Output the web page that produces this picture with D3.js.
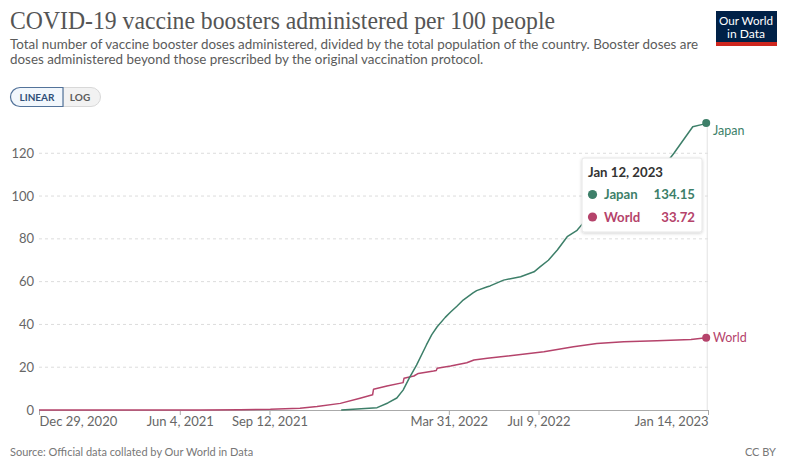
<!DOCTYPE html>
<html>
<head>
<meta charset="utf-8">
<script src="https://cdn.jsdelivr.net/npm/d3@7"></script>
<style>
  html, body { margin: 0; padding: 0; background: #fff; }
  svg { display: block; font-family: Lato, "Noto Sans", sans-serif; }
</style>
</head>
<body>
<svg width="785" height="461"></svg>
<script>
// values
const japanDates = ["2021-12-01", "2022-01-10", "2022-01-22", "2022-02-01", "2022-02-08", "2022-02-15",
  "2022-02-23", "2022-03-06", "2022-03-12", "2022-03-18", "2022-03-27", "2022-04-02", "2022-04-09",
  "2022-04-16", "2022-04-27", "2022-05-01", "2022-05-13", "2022-05-16", "2022-05-31", "2022-06-19",
  "2022-07-04", "2022-07-11", "2022-07-20", "2022-07-30", "2022-08-10", "2022-08-21", "2022-08-27",
  "2022-09-16", "2022-10-14", "2022-11-11", "2022-12-07", "2022-12-28", "2023-01-08", "2023-01-12"];
const japanValues = [0, 1.1, 3.3, 5.6, 9.3, 15, 21, 30.4, 35.2, 38.9, 43.3, 45.8, 48.5, 51.4, 54.7, 55.8,
  57.6, 58, 60.7, 62.3, 64.6, 67, 70, 74.8, 81, 84, 87, 92, 99, 106, 120, 132.4, 133.5, 134.15];

const worldDates = ["2020-12-29", "2021-06-27", "2021-08-10", "2021-09-13", "2021-10-16", "2021-11-04",
  "2021-11-30", "2021-12-22", "2022-01-05", "2022-01-06", "2022-01-21", "2022-02-08", "2022-02-09",
  "2022-02-20", "2022-02-25", "2022-03-14", "2022-03-17", "2022-03-18", "2022-04-02", "2022-04-20",
  "2022-04-28", "2022-05-13", "2022-05-28", "2022-07-15", "2022-08-17", "2022-09-12", "2022-10-12",
  "2022-11-18", "2022-12-26", "2023-01-12"];
const worldValues = [0, 0.05, 0.15, 0.3, 0.8, 1.6, 3.1, 5.5, 7.1, 9.7, 11.2, 12.8, 14.8, 15.9, 17.1,
  18.2, 18.5, 19.5, 20.6, 22.1, 23.4, 24.2, 24.9, 27.2, 29.6, 31.1, 31.9, 32.4, 33.0, 33.72];

const xTickDates = ["2020-12-29", "2021-06-04", "2021-09-12", "2022-03-31", "2022-07-09", "2023-01-14"];
const yTicks = [0, 20, 40, 60, 80, 100, 120];

const japanColor = "#3d7f69";
const worldColor = "#b5436b";

const svg = d3.select("svg");
const parse = d3.utcParse("%Y-%m-%d");
const fmtTick = d3.utcFormat("%b %-d, %Y");

const japan = japanDates.map((d, i) => ({ date: parse(d), value: japanValues[i] }));
const world = worldDates.map((d, i) => ({ date: parse(d), value: worldValues[i] }));

const plotLeft = 39, plotRight = 708, plotTop = 123, plotBottom = 410;

const xScale = d3.scaleUtc()
  .domain([parse(xTickDates[0]), parse(xTickDates[xTickDates.length - 1])])
  .range([plotLeft, plotRight]);

const yScale = d3.scaleLinear()
  .domain([0, 134.15])
  .range([plotBottom, plotTop]);

// header
svg.append("text")
  .attr("x", 10)
  .attr("y", 29)
  .attr("font-family", "'Liberation Serif', 'DejaVu Serif', serif")
  .attr("font-size", 25)
  .attr("fill", "#555")
  .attr("textLength", 545)
  .attr("lengthAdjust", "spacingAndGlyphs")
  .text("COVID-19 vaccine boosters administered per 100 people");

const subtitle = [
  "Total number of vaccine booster doses administered, divided by the total population of the country. Booster doses are",
  "doses administered beyond those prescribed by the original vaccination protocol."
];
svg.selectAll(".subtitle")
  .data(subtitle)
  .enter()
  .append("text")
  .attr("class", "subtitle")
  .attr("x", 10)
  .attr("y", (d, i) => 49 + i * 15)
  .attr("font-size", 13.4)
  .attr("fill", "#5b5b5b")
  .text(d => d);

// logo
const logo = svg.append("g");
logo.append("rect").attr("x", 716).attr("y", 11).attr("width", 61).attr("height", 35).attr("fill", "#002147");
logo.append("rect").attr("x", 716).attr("y", 42).attr("width", 61).attr("height", 4).attr("fill", "#ce261e");
logo.append("text").attr("x", 719).attr("y", 25).attr("font-size", 11.5).attr("fill", "#fff")
  .attr("textLength", 54).attr("lengthAdjust", "spacingAndGlyphs").text("Our World");
logo.append("text").attr("x", 727).attr("y", 38).attr("font-size", 11.5).attr("fill", "#fff")
  .attr("textLength", 38).attr("lengthAdjust", "spacingAndGlyphs").text("in Data");

// linear / log toggle
const toggle = svg.append("g");
toggle.append("path")
  .attr("d", "M63,87.5 H91 a9.5,9.5 0 0 1 0,19 H63 Z")
  .attr("fill", "#f2f2f2")
  .attr("stroke", "#d8d8d8");
toggle.append("path")
  .attr("d", "M63,87.5 H20 a9.5,9.5 0 0 0 0,19 H63 Z")
  .attr("fill", "#f2f7fc")
  .attr("stroke", "#53739a")
  .attr("stroke-width", 1.2);
toggle.append("text").attr("x", 37).attr("y", 100.5).attr("text-anchor", "middle")
  .attr("font-size", 10).attr("font-weight", 700).attr("fill", "#2f4f78").text("LINEAR");
toggle.append("text").attr("x", 80).attr("y", 100.5).attr("text-anchor", "middle")
  .attr("font-size", 10).attr("font-weight", 700).attr("fill", "#5b5b5b").text("LOG");

// grid
svg.append("g")
  .selectAll("line")
  .data(yTicks.filter(d => d > 0))
  .enter()
  .append("line")
  .attr("x1", plotLeft)
  .attr("x2", plotRight)
  .attr("y1", d => yScale(d))
  .attr("y2", d => yScale(d))
  .attr("stroke", "#dcdcdc")
  .attr("stroke-dasharray", "3,3");

svg.append("g")
  .selectAll("text")
  .data(yTicks)
  .enter()
  .append("text")
  .attr("x", 34)
  .attr("y", d => yScale(d) + 4.5)
  .attr("text-anchor", "end")
  .attr("font-size", 13)
  .attr("fill", "#666")
  .text(d => d);

// hover line
svg.append("line")
  .attr("x1", xScale(parse("2023-01-12")) + 1)
  .attr("x2", xScale(parse("2023-01-12")) + 1)
  .attr("y1", plotTop)
  .attr("y2", plotBottom)
  .attr("stroke", "#e2e2e2");

// x axis
const xAxis = d3.axisBottom(xScale)
  .tickValues(xTickDates.map(parse))
  .tickSize(5)
  .tickFormat(fmtTick);

const gx = svg.append("g")
  .attr("id", "x-axis")
  .attr("transform", `translate(0, ${plotBottom})`)
  .call(xAxis);
gx.select(".domain").attr("stroke", "#aaa");
gx.selectAll(".tick line").attr("stroke", "#aaa");
gx.selectAll(".tick text")
  .attr("font-family", "Lato, sans-serif")
  .attr("font-size", 13)
  .attr("fill", "#666")
  .attr("dy", "0.6em")
  .attr("text-anchor", (d, i) => i === 0 ? "start" : (i === xTickDates.length - 1 ? "end" : "middle"));

// lines
const line = d3.line()
  .x(d => xScale(d.date))
  .y(d => yScale(d.value));

[[world, worldColor], [japan, japanColor]].forEach(([data, color]) => {
  svg.append("path")
    .datum(data)
    .attr("fill", "none")
    .attr("stroke", color)
    .attr("stroke-width", 1.5)
    .attr("stroke-linejoin", "round")
    .attr("d", line);
  const last = data[data.length - 1];
  svg.append("circle")
    .attr("cx", xScale(last.date))
    .attr("cy", yScale(last.value))
    .attr("r", 4)
    .attr("fill", color);
});

svg.append("text").attr("x", 713).attr("y", yScale(134.15) + 12).attr("font-size", 12.5)
  .attr("fill", japanColor).text("Japan");
svg.append("text").attr("x", 713).attr("y", yScale(33.72) + 4.5).attr("font-size", 12.5)
  .attr("fill", worldColor).text("World");

// tooltip
const defs = svg.append("defs");
const shadow = defs.append("filter").attr("id", "shadow").attr("x", "-20%").attr("y", "-20%")
  .attr("width", "140%").attr("height", "140%");
shadow.append("feDropShadow").attr("dx", 0).attr("dy", 1).attr("stdDeviation", 1.5)
  .attr("flood-color", "#000").attr("flood-opacity", 0.18);

const tip = svg.append("g");
tip.append("rect")
  .attr("x", 582).attr("y", 158).attr("width", 120).attr("height", 74)
  .attr("rx", 2)
  .attr("fill", "#fff")
  .attr("stroke", "#e6e6e6")
  .attr("filter", "url(#shadow)");
tip.append("text").attr("x", 588).attr("y", 176.5).attr("font-size", 13.2)
  .attr("font-weight", 700).attr("fill", "#333").text("Jan 12, 2023");

const tipRows = [["Japan", japanValues[japanValues.length - 1], japanColor],
  ["World", worldValues[worldValues.length - 1], worldColor]];
tip.selectAll(".row")
  .data(tipRows)
  .enter()
  .append("g")
  .attr("class", "row")
  .attr("transform", (d, i) => `translate(0, ${194.5 + i * 22.5})`)
  .each(function (d) {
    const g = d3.select(this);
    g.append("circle").attr("cx", 592.5).attr("cy", 0).attr("r", 4.6).attr("fill", d[2]);
    g.append("text").attr("x", 604).attr("y", 4.8).attr("font-size", 13.2)
      .attr("font-weight", 700).attr("fill", d[2]).text(d[0]);
    g.append("text").attr("x", 695).attr("y", 4.8).attr("text-anchor", "end").attr("font-size", 13.2)
      .attr("font-weight", 700).attr("fill", d[2]).text(d[1].toFixed(2));
  });

// footer
svg.append("text").attr("x", 10).attr("y", 456).attr("font-size", 11)
  .attr("fill", "#777").text("Source: Official data collated by Our World in Data");
svg.append("text").attr("x", 776).attr("y", 456).attr("text-anchor", "end").attr("font-size", 11)
  .attr("fill", "#777").text("CC BY");
</script>
</body>
</html>
